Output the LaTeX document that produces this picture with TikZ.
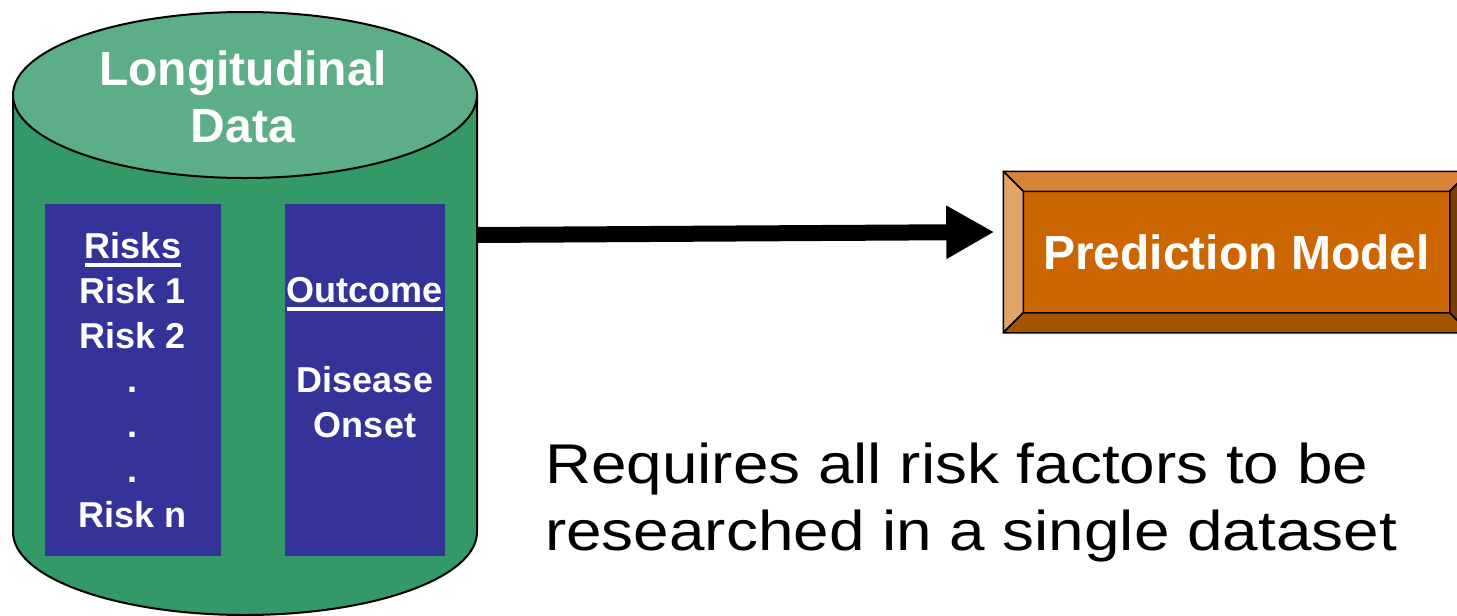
\documentclass[tikz,border=0pt]{standalone}
\usepackage{fontspec}
\setmainfont{Liberation Sans}
\newfontfamily\widefont[FakeStretch=1.14]{Liberation Sans}
\usetikzlibrary{arrows.meta,calc}

\definecolor{cylbody}{HTML}{339966}
\definecolor{cyltop}{HTML}{5CAE87}
\definecolor{colblue}{HTML}{333399}
\definecolor{boxface}{HTML}{CC6600}
\definecolor{bevtop}{HTML}{D88436}
\definecolor{bevleft}{HTML}{E0A468}
\definecolor{bevbottom}{HTML}{A65300}
\definecolor{bevright}{HTML}{7C3E00}

% underline with a fixed rule just below the baseline
\newcommand\ulrule[1]{\setbox0\hbox{#1}\rlap{\rule[-8.5pt]{\wd0}{4.5pt}}\box0}

\tikzset{
  outline/.style={draw=black, line width=2pt},
  column/.style={fill=colblue, inner sep=0pt},
  boldwhite/.style={text=white, font=\bfseries, inner sep=0pt},
  bevel/.style={draw=black, line width=1.5pt, line join=round},
}

\begin{document}
\begin{tikzpicture}[x=1pt,y=-1pt]
\useasboundingbox (0,0) rectangle (1457,616);

% cylinder body: side walls and rounded bottom
\node[inner sep=0pt, minimum width=464pt, minimum height=603pt] (store) at (245,314) {};
\filldraw[fill=cylbody, outline]
  (13,95) -- (13,532) arc[start angle=180, end angle=360, x radius=232pt, y radius=83pt]
  -- (477,95);
% cylinder lid
\filldraw[fill=cyltop, outline] (245,95) ellipse[x radius=232pt, y radius=83pt];
% multi-line nodes are placed by the baseline of their last line
\node[boldwhite, align=center, anchor=base, font=\fontsize{48}{57}\selectfont\bfseries]
  (title) at (243,142) {Longitudinal\\Data};

% the two data columns
\node[column, minimum width=176pt, minimum height=352pt] (risks) at (133,380) {};
\node[column, minimum width=160pt, minimum height=352pt] (outcome) at (365,380) {};
\node[boldwhite, align=center, anchor=base, font=\fontsize{36}{44.7}\selectfont\bfseries]
  (risklist) at (risks.center |- 0,527)
  {\ulrule{Risks}\\Risk 1\\Risk 2\\.\\.\\.\\Risk n};
\node[boldwhite, align=center, anchor=base, font=\fontsize{36}{44.7}\selectfont\bfseries]
  (outlist) at (outcome.center |- 0,437)
  {\ulrule{Outcome}\\[44.7pt]Disease\\Onset};

% bevelled model box
\node[fill=boxface, outline, line width=1.5pt, minimum width=465pt, minimum height=160pt,
  inner sep=0pt] (model) at (1236.5,252) {};
\filldraw[bevel, fill=bevtop] (model.north west) -- (model.north east)
  -- ($(model.north east)+(-20,20)$) -- ($(model.north west)+(20,20)$) -- cycle;
\filldraw[bevel, fill=bevleft] (model.north west) -- ($(model.north west)+(20,20)$)
  -- ($(model.south west)+(20,-20)$) -- (model.south west) -- cycle;
\filldraw[bevel, fill=bevbottom] (model.south west) -- ($(model.south west)+(20,-20)$)
  -- ($(model.south east)+(-20,-20)$) -- (model.south east) -- cycle;
\filldraw[bevel, fill=bevright] (model.north east) -- ($(model.north east)+(-20,20)$)
  -- ($(model.south east)+(-20,-20)$) -- (model.south east) -- cycle;
\node[boldwhite, font=\fontsize{48}{57}\selectfont\bfseries] (modeltext) at (model.center)
  {Prediction Model};

% data flows into the model
\coordinate (src) at (477,235);
\draw[line width=16pt, -{Triangle[length=48pt, width=50pt]}]
  (src) -- ([xshift=-9pt, yshift=20pt]model.west);

% caption
\node[anchor=base west, align=left, inner sep=0pt,
  font=\widefont\fontsize{56}{67}\selectfont] (note) at (545,550)
  {Requires all risk factors to be\\researched in a single dataset};
\end{tikzpicture}
\end{document}
